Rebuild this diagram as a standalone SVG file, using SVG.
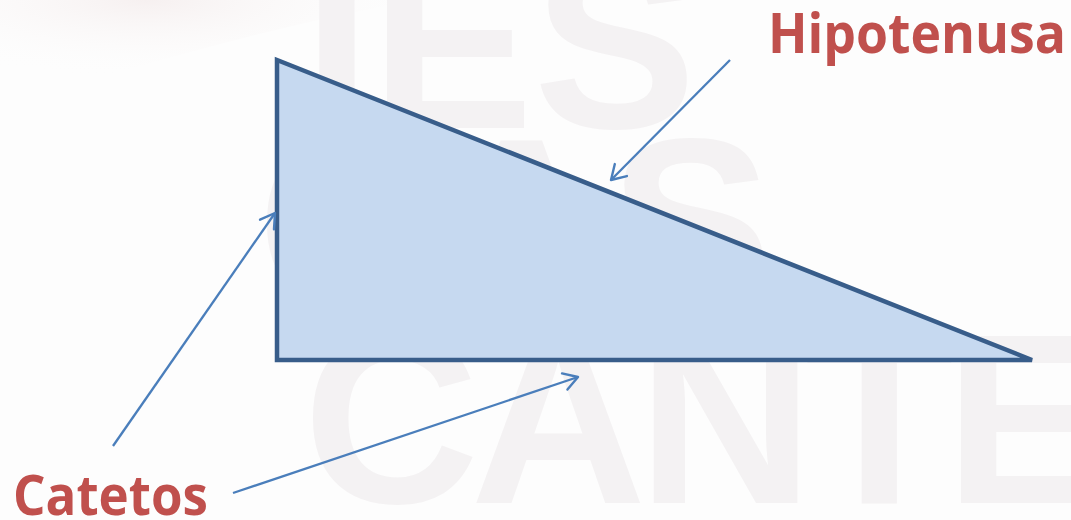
<svg xmlns="http://www.w3.org/2000/svg" width="1071" height="520" viewBox="0 0 1071 520">
  <style>
    .wm { font-family: "Liberation Sans", Arial, sans-serif; font-weight: bold; font-size: 244px; fill: #f4f2f3; }
    .lbl { font-family: "Open Sans", "Liberation Sans", sans-serif; font-weight: bold; font-size: 56px; fill: #c0504d; }
    .tri { fill: #c6d9f0; stroke: #385d8a; stroke-width: 4.5; stroke-linejoin: miter; }
    .con { stroke: #4a7ebb; stroke-width: 2.3; fill: none; marker-end: url(#arrow); }
  </style>
  <defs>
    <radialGradient id="swoosh" cx="0.35" cy="0" r="0.7">
      <stop offset="0" stop-color="#f6f0f0"/>
      <stop offset="1" stop-color="#fdfdfd" stop-opacity="0"/>
    </radialGradient>
    <marker id="arrow" markerUnits="userSpaceOnUse" markerWidth="22" markerHeight="22" refX="17" refY="10" orient="auto" viewBox="0 0 22 20">
      <path d="M3,1.5 L17,10 L3,18.5" fill="none" stroke="#4a7ebb" stroke-width="2.4" stroke-linecap="round" stroke-linejoin="round"/>
    </marker>
  </defs>
  <rect width="1071" height="520" fill="#fdfdfd"/>
  <path d="M0,0 L420,0 C300,20 150,60 0,110 Z" fill="url(#swoosh)"/>
  <g id="watermark">
    <text class="wm" x="303" y="128">IES</text>
    <text class="wm" x="257" y="308">CAS</text>
    <text class="wm" x="303" y="503" letter-spacing="-9">CANTE</text>
  </g>
  <g id="triangle">
    <polygon class="tri" points="277,60 277,360 1032,360"/>
  </g>
  <g id="label-hipotenusa">
    <text class="lbl" x="768" y="53" textLength="298" lengthAdjust="spacingAndGlyphs">Hipotenusa</text>
  </g>
  <g id="label-catetos">
    <text class="lbl" x="13" y="515" textLength="195" lengthAdjust="spacingAndGlyphs">Catetos</text>
  </g>
  <g id="connectors">
    <line class="con" x1="730" y1="60" x2="611" y2="180"/>
    <line class="con" x1="113" y1="446" x2="275" y2="213"/>
    <line class="con" x1="233" y1="493" x2="578" y2="377"/>
  </g>
</svg>
